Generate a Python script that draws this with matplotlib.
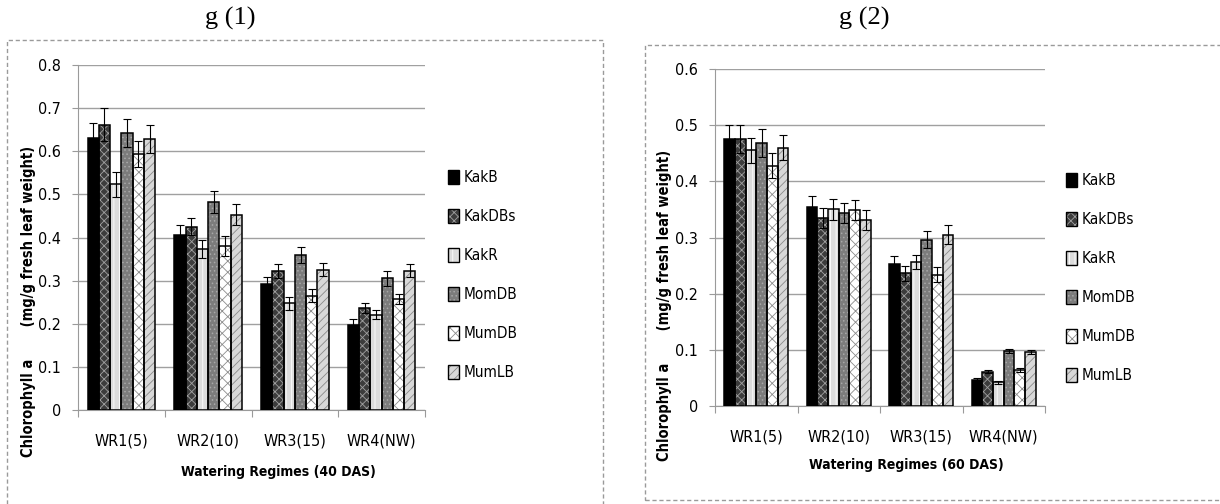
import matplotlib
matplotlib.use("Agg")
import matplotlib.pyplot as plt
import numpy as np
from matplotlib.patches import Patch, Rectangle

# data
regimes = ["WR1(5)", "WR2(10)", "WR3(15)", "WR4(NW)"]
varieties = ["KakB", "KakDBs", "KakR", "MomDB", "MumDB", "MumLB"]

# g (1): 40 DAS, rows = varieties, columns = regimes
chl_40 = [
    [0.630, 0.405, 0.293, 0.198],
    [0.662, 0.425, 0.322, 0.236],
    [0.523, 0.373, 0.247, 0.221],
    [0.642, 0.482, 0.360, 0.305],
    [0.594, 0.380, 0.265, 0.257],
    [0.628, 0.453, 0.325, 0.323],
]
err_40 = [
    [0.035, 0.023, 0.016, 0.012],
    [0.038, 0.020, 0.016, 0.012],
    [0.030, 0.021, 0.015, 0.011],
    [0.033, 0.025, 0.018, 0.017],
    [0.030, 0.023, 0.015, 0.011],
    [0.032, 0.024, 0.015, 0.015],
]

# g (2): 60 DAS
chl_60 = [
    [0.475, 0.355, 0.253, 0.046],
    [0.475, 0.335, 0.236, 0.061],
    [0.455, 0.350, 0.256, 0.042],
    [0.468, 0.343, 0.296, 0.098],
    [0.428, 0.349, 0.234, 0.064],
    [0.460, 0.331, 0.305, 0.096],
]
err_60 = [
    [0.025, 0.018, 0.014, 0.004],
    [0.025, 0.018, 0.013, 0.003],
    [0.023, 0.018, 0.012, 0.002],
    [0.025, 0.018, 0.015, 0.003],
    [0.022, 0.018, 0.013, 0.003],
    [0.022, 0.018, 0.017, 0.004],
]

# fill colour, hatch, hatch colour for each variety
styles = [
    ("#000000", None, "#000000"),
    ("#3c3c3c", "xxxx", "#a0a0a0"),
    ("#dcdcdc", "|||", "#ffffff"),
    ("#7c7c7c", "....", "#a8a8a8"),
    ("#ffffff", "xxx", "#8c8c8c"),
    ("#d8d8d8", "////", "#8a8a8a"),
]

plt.rcParams["hatch.linewidth"] = 0.6
plt.rcParams["font.family"] = ["DejaVu Sans"]
plt.rcParams["font.stretch"] = "condensed"

fig = plt.figure(figsize=(12.2, 5.04), dpi=100)

# dashed frames round each chart
fig.patches.append(Rectangle((7 / 1220, -0.02), 596 / 1220, 1 - 40 / 504 + 0.02,
                             transform=fig.transFigure, fill=False,
                             edgecolor="#9a9a9a", linestyle=(0, (3, 2)), lw=1.0))
fig.patches.append(Rectangle((645 / 1220, 4 / 504), 580 / 1220, 1 - 49 / 504,
                             transform=fig.transFigure, fill=False,
                             edgecolor="#9a9a9a", linestyle=(0, (3, 2)), lw=1.0))


def draw_panel(rect, vals, errs, ymax, das, title, title_x, leg_anchor, ylab_xy, xlab_xy):
    ax = fig.add_axes(rect)
    x = np.arange(len(regimes))
    w = 0.13
    handles = []
    for i, name in enumerate(varieties):
        face, hatch, hcol = styles[i]
        pos = x + (i - 2.5) * w
        ax.bar(pos, vals[i], w, color=face, hatch=hatch, edgecolor=hcol,
               linewidth=0, zorder=3)
        ax.bar(pos, vals[i], w, fill=False, edgecolor="black", linewidth=1.1, zorder=4)
        ax.errorbar(pos, vals[i], yerr=errs[i], fmt="none", ecolor="black",
                    elinewidth=0.8, capsize=3, capthick=0.8, zorder=5)
        handles.append((Patch(facecolor=face, hatch=hatch, edgecolor=hcol, linewidth=0),
                        Patch(fill=False, edgecolor="black", linewidth=1.0)))

    ax.set_xlim(-0.5, len(regimes) - 0.5)
    ax.set_ylim(0, ymax)
    ticks = np.arange(0, ymax + 0.001, 0.1)
    ax.set_yticks(ticks)
    ax.set_yticklabels([f"{t:g}" for t in ticks], fontsize=11.5)
    ax.yaxis.grid(True, color="#a0a0a0", lw=1.0, zorder=0)
    ax.set_axisbelow(True)

    ax.set_xticks(np.arange(-0.5, len(regimes)), minor=False)
    ax.set_xticklabels([])
    ax.set_xticks(x, minor=True)
    ax.set_xticklabels(regimes, minor=True, fontsize=11.5)
    ax.tick_params(axis="x", which="major", length=5, color="#9a9a9a")
    ax.tick_params(axis="x", which="minor", length=0, pad=17)
    ax.tick_params(axis="y", length=4, color="#9a9a9a", pad=8)

    for s in ["top", "right"]:
        ax.spines[s].set_visible(False)
    ax.spines["left"].set_color("#9a9a9a")
    ax.spines["bottom"].set_color("#9a9a9a")

    fig.text(ylab_xy[0] / 1220, 1 - ylab_xy[1] / 504,
             "Chlorophyll a       (mg/g fresh leaf weight)", rotation=90,
             ha="center", va="center", fontsize=10.5, fontweight="bold")
    fig.text(xlab_xy[0] / 1220, 1 - xlab_xy[1] / 504,
             f"Watering Regimes ({das} DAS)", ha="center", va="center",
             fontsize=10, fontweight="bold")

    fig.text(title_x, 1 - 18 / 504, title, ha="center", va="center",
             fontsize=19, family="Liberation Serif", stretch="normal")

    ax.legend(handles, varieties, loc="upper left", bbox_to_anchor=leg_anchor,
              bbox_transform=fig.transFigure, frameon=False, fontsize=11,
              handlelength=0.75, handleheight=1.0, handletextpad=0.3,
              labelspacing=1.57, borderpad=0, borderaxespad=0)
    return ax


draw_panel([78 / 1220, 1 - 410 / 504, 347 / 1220, 345 / 504], chl_40, err_40, 0.8,
           40, "g (1)", 230 / 1220, (448 / 1220, 1 - 170 / 504), (29, 301), (278, 472))
draw_panel([715 / 1220, 1 - 406 / 504, 330 / 1220, 337 / 504], chl_60, err_60, 0.6,
           60, "g (2)", 864 / 1220, (1066 / 1220, 1 - 173 / 504), (664, 305), (906, 465))

fig.savefig("out.png", dpi=100)
